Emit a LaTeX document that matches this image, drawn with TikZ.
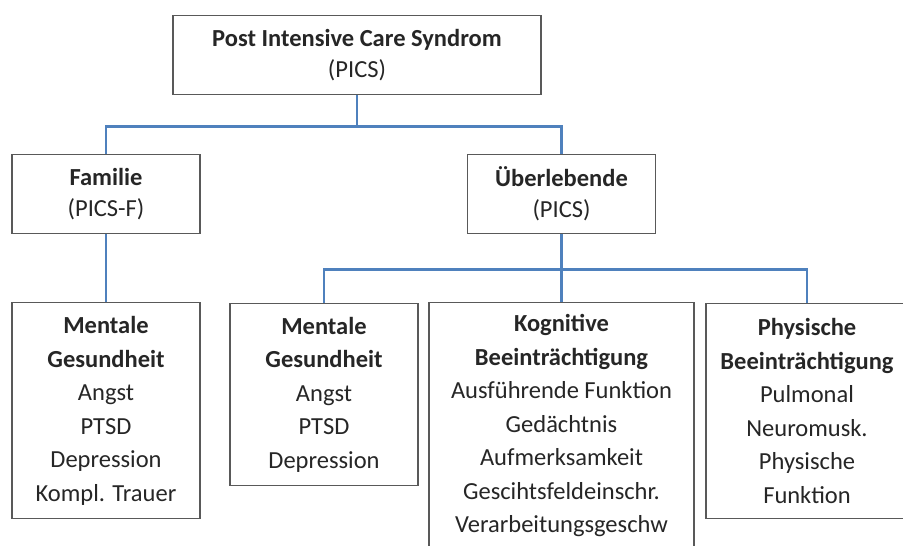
\documentclass[tikz,border=0pt]{standalone}
\usepackage{fontspec}
\setmainfont{Carlito}
\usepackage{tikz}
\usetikzlibrary{positioning, calc}
\definecolor{connblue}{RGB}{79,129,189}

\begin{document}
\begin{tikzpicture}[
  x=1pt, y=-1pt,
  every node/.style={font=\fontsize{24.5}{33.5}\selectfont, text=black!85},
  % --- box styles ---
  catbox/.style={
    draw=black!65, line width=1.4pt, fill=white,
    align=center, inner xsep=4pt, inner ysep=12pt, anchor=north,
  },
  headbox/.style={
    catbox, minimum height=79pt,
    font=\fontsize{24.5}{31}\selectfont,
  },
  conn/.style={draw=connblue, line width=2.4pt},
]

% === Layout constants ===
\def\tw{368pt}   % top width
\def\sw{188pt}   % small width
\def\kw{265pt}   % cognitive width
\def\pw{202pt}   % physical width

\useasboundingbox (0,0) rectangle (903,546);
\clip (0,0) rectangle (903,546);

% ---------- Row 1: PICS ----------
\node[headbox, minimum width=\tw] (pics) at (357, 15)
  {\textbf{Post Intensive Care Syndrom}\\(PICS)};

% ---------- Row 2: Familie + Ueberlebende ----------
\node[headbox, minimum width=\sw] (fam) at (106, 154)
  {\textbf{Familie}\\(PICS-F)};
\node[headbox, minimum width=\sw] (ueb) at (561.5, 154)
  {\textbf{Überlebende}\\(PICS)};

% Fan-out from PICS
\draw[conn] (pics.south) -- ++(0,31) coordinate (topbus) -| (fam.north);
\draw[conn] (topbus) -| (ueb.north);

% ---------- Row 3: Folgen ----------
\node[catbox, minimum width=\sw, minimum height=216pt] (famment) at (106, 302)
  {\textbf{Mentale}\\\textbf{Gesundheit}\\Angst\\PTSD\\Depression\\Kompl. Trauer};
\node[catbox, minimum width=\sw, minimum height=182pt] (ment) at (324, 303)
  {\textbf{Mentale}\\\textbf{Gesundheit}\\Angst\\PTSD\\Depression};
\node[catbox, minimum width=\kw] (kog) at (561.5, 302)
  {\textbf{Kognitive}\\\textbf{Beeinträchtigung}\\Ausführende Funktion\\Gedächtnis\\Aufmerksamkeit\\Gescihtsfeldeinschr.\\Verarbeitungsgeschw};
\node[catbox, minimum width=\pw, minimum height=215pt] (phys) at (807, 303)
  {\textbf{Physische}\\\textbf{Beeinträchtigung}\\Pulmonal\\Neuromusk.\\Physische\\Funktion};

% Familie straight down
\draw[conn] (fam.south) -- (famment.north);

% Fan-out from Ueberlebende
\draw[conn] (ueb.south) -- ++(0,35) coordinate (botbus) -| (ment.north);
\draw[conn] (botbus) -- (kog.north);
\draw[conn] (botbus) -| (phys.north);

\end{tikzpicture}
\end{document}
